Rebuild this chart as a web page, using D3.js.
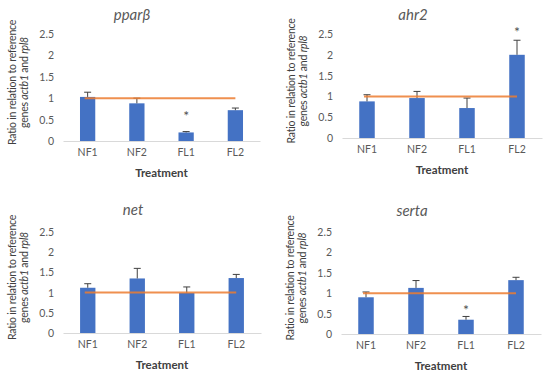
<!DOCTYPE html>
<html>
<head>
<meta charset="utf-8">
<script src="https://cdn.jsdelivr.net/npm/d3@7"></script>
<style>
  body { margin: 0; background: #fff; }
  svg { font-family: Lato, 'Open Sans', sans-serif; }
</style>
</head>
<body>
<div id="chart"></div>
<script>
'use strict'

// data
const categories = ['NF1', 'NF2', 'FL1', 'FL2']
const yTicks = [0, 0.5, 1, 1.5, 2, 2.5]
const genes = ['pparβ', 'ahr2', 'net', 'serta']

const pparbMean = [1.03, 0.88, 0.20, 0.72]
const pparbErr = [0.11, 0.12, 0.02, 0.05]
const ahr2Mean = [0.88, 0.96, 0.72, 2.00]
const ahr2Err = [0.16, 0.16, 0.24, 0.35]
const netMean = [1.12, 1.35, 0.99, 1.36]
const netErr = [0.10, 0.25, 0.15, 0.09]
const sertaMean = [0.90, 1.13, 0.35, 1.32]
const sertaErr = [0.13, 0.18, 0.08, 0.07]

// significance marks: [category, y value of asterisk]
const pparbStars = [['FL1', 0.72]]
const ahr2Stars = [['FL2', 2.69]]
const netStars = []
const sertaStars = [['FL1', 0.73]]

const referenceLevel = 1

const panels = [
  { gene: genes[0], mean: pparbMean, err: pparbErr, stars: pparbStars,
    left: 63, right: 260, top: 34, bottom: 141, titleX: 132, titleY: 14 },
  { gene: genes[1], mean: ahr2Mean, err: ahr2Err, stars: ahr2Stars,
    left: 342, right: 542, top: 34, bottom: 138, titleX: 413, titleY: 14 },
  { gene: genes[2], mean: netMean, err: netErr, stars: netStars,
    left: 63, right: 261, top: 232, bottom: 333, titleX: 133, titleY: 209 },
  { gene: genes[3], mean: sertaMean, err: sertaErr, stars: sertaStars,
    left: 341, right: 541, top: 232, bottom: 334, titleX: 412, titleY: 210 }
]

const svg = d3.select('#chart')
  .append('svg')
  .attr('width', 550)
  .attr('height', 376)

function drawPanel (p) {
  const g = svg.append('g')
  const x = d3.scaleBand()
    .domain(categories)
    .range([p.left, p.right])
    .paddingInner(0.69)
    .paddingOuter(0.345)
  const y = d3.scaleLinear()
    .domain([0, 2.5])
    .range([p.bottom, p.top])
  const rows = categories.map((c, i) => ({ cat: c, mean: p.mean[i], err: p.err[i] }))

  // title
  g.append('text')
    .attr('x', p.titleX)
    .attr('y', p.titleY)
    .attr('text-anchor', 'middle')
    .attr('dominant-baseline', 'central')
    .attr('font-size', 15)
    .attr('font-style', 'italic')
    .attr('fill', '#595959')
    .text(p.gene)

  // y tick labels (no axis line)
  g.selectAll('text.ytick')
    .data(yTicks)
    .enter()
    .append('text')
    .attr('class', 'ytick')
    .attr('x', p.left - 9)
    .attr('y', d => y(d))
    .attr('text-anchor', 'end')
    .attr('dominant-baseline', 'central')
    .attr('font-size', 10.5)
    .attr('fill', '#595959')
    .text(d => d)

  // x axis
  const xAxis = g.append('g')
    .attr('transform', `translate(0,${p.bottom})`)
    .call(d3.axisBottom(x).tickSize(0).tickPadding(8))
  xAxis.select('.domain').attr('stroke', '#d9d9d9')
  xAxis.selectAll('text')
    .attr('font-size', 10.5)
    .attr('font-family', 'Lato, sans-serif')
    .attr('fill', '#595959')

  // bars
  g.selectAll('rect.bar')
    .data(rows)
    .enter()
    .append('rect')
    .attr('class', 'bar')
    .attr('x', d => x(d.cat))
    .attr('width', x.bandwidth())
    .attr('y', d => y(d.mean))
    .attr('height', d => y(0) - y(d.mean))
    .attr('fill', '#4472C4')

  // error bars (upper only)
  const cx = d => x(d.cat) + x.bandwidth() / 2
  g.selectAll('line.err')
    .data(rows)
    .enter()
    .append('line')
    .attr('x1', cx)
    .attr('x2', cx)
    .attr('y1', d => y(d.mean))
    .attr('y2', d => y(d.mean + d.err))
    .attr('stroke', '#404040')
    .attr('stroke-width', 1)
  g.selectAll('line.cap')
    .data(rows)
    .enter()
    .append('line')
    .attr('x1', d => cx(d) - 3.5)
    .attr('x2', d => cx(d) + 3.5)
    .attr('y1', d => y(d.mean + d.err))
    .attr('y2', d => y(d.mean + d.err))
    .attr('stroke', '#404040')
    .attr('stroke-width', 1)

  // reference level line
  g.append('line')
    .attr('x1', x(categories[0]) + x.bandwidth() / 2 - 3)
    .attr('x2', x(categories[categories.length - 1]) + x.bandwidth() / 2)
    .attr('y1', y(referenceLevel))
    .attr('y2', y(referenceLevel))
    .attr('stroke', '#ED7D31')
    .attr('stroke-width', 2)
    .attr('opacity', 0.85)

  // asterisks
  g.selectAll('text.star')
    .data(p.stars)
    .enter()
    .append('text')
    .attr('x', d => x(d[0]) + x.bandwidth() / 2)
    .attr('y', d => y(d[1]) + 5)
    .attr('text-anchor', 'middle')
    .attr('dominant-baseline', 'central')
    .attr('font-size', 14)
    .attr('fill', '#505050')
    .text('*')

  // x axis title
  g.append('text')
    .attr('x', (p.left + p.right) / 2)
    .attr('y', p.bottom + 31)
    .attr('text-anchor', 'middle')
    .attr('dominant-baseline', 'central')
    .attr('font-size', 11.5)
    .attr('font-weight', 'bold')
    .attr('fill', '#404040')
    .text('Treatment')

  // y axis title, two lines
  const midY = (p.top + p.bottom) / 2 - 5
  const l1 = g.append('text')
    .attr('transform', `translate(${p.left - 51},${midY}) rotate(-90)`)
    .attr('text-anchor', 'middle')
    .attr('dominant-baseline', 'central')
    .attr('font-size', 10.5)
    .attr('letter-spacing', -0.2)
    .attr('fill', '#404040')
  l1.text('Ratio in relation to reference')
  const l2 = g.append('text')
    .attr('transform', `translate(${p.left - 39},${midY}) rotate(-90)`)
    .attr('text-anchor', 'middle')
    .attr('dominant-baseline', 'central')
    .attr('font-size', 10.5)
    .attr('letter-spacing', -0.2)
    .attr('fill', '#404040')
  l2.append('tspan').text('genes ')
  l2.append('tspan').attr('font-style', 'italic').text('actb1')
  l2.append('tspan').text(' and ')
  l2.append('tspan').attr('font-style', 'italic').text('rpl8')
}

panels.forEach(drawPanel)
</script>
</body>
</html>
